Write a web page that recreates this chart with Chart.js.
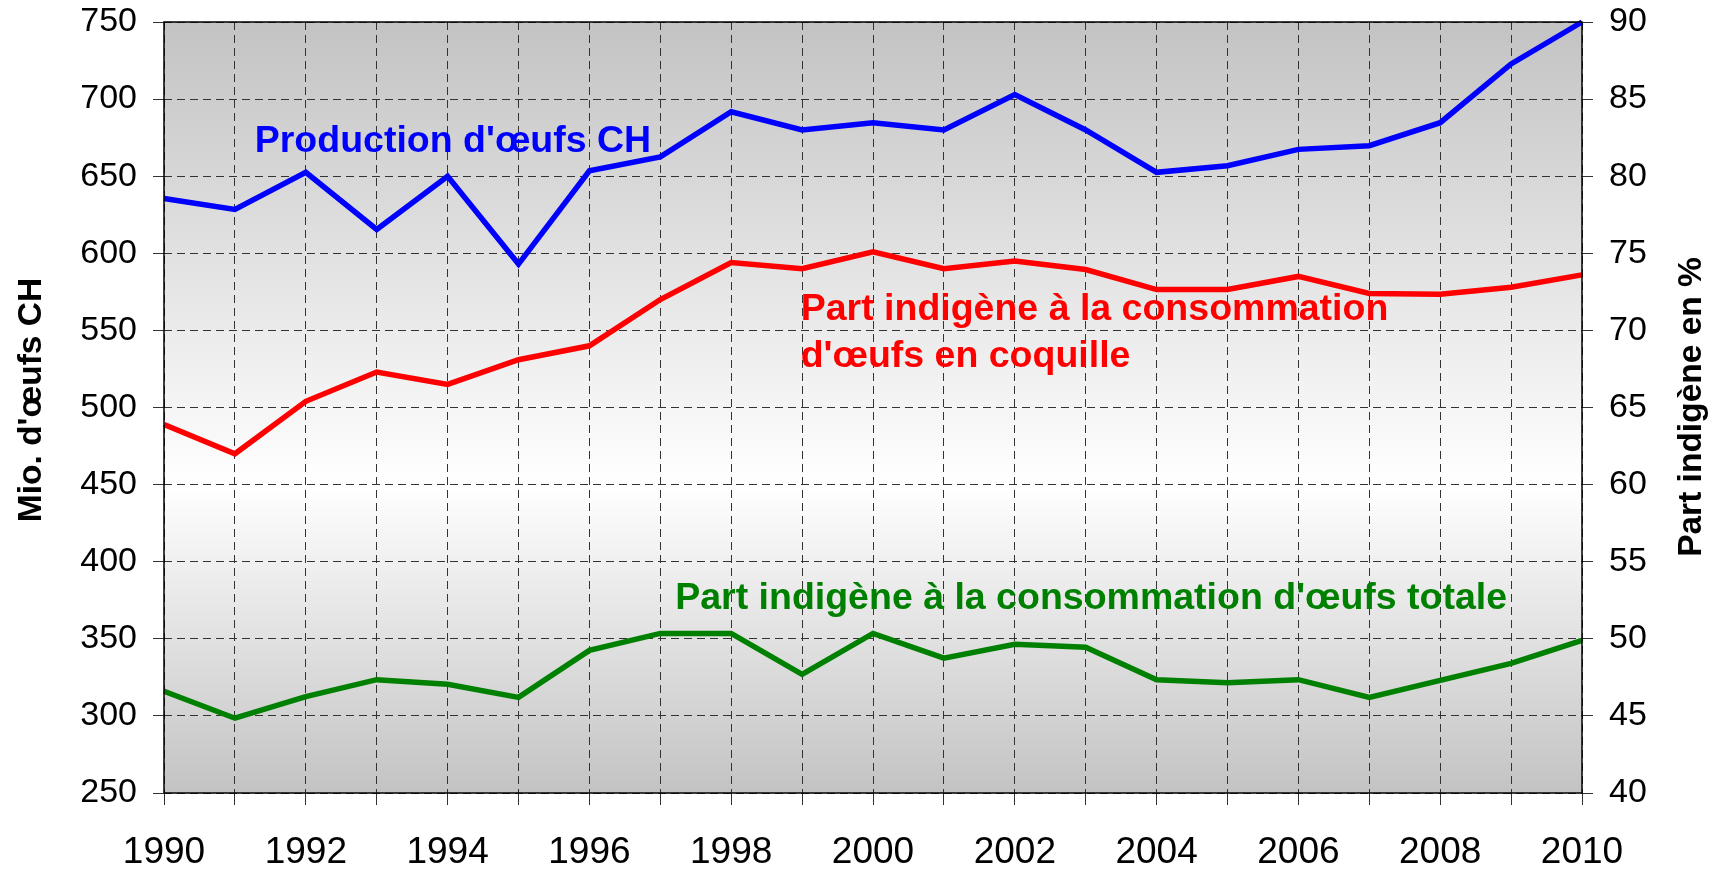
<!DOCTYPE html>
<html lang="fr">
<head>
<meta charset="UTF-8" />
<title>Production d'œufs CH</title>
<script src="https://cdn.jsdelivr.net/npm/chart.js@4"></script>
<style>
  * { margin: 0; padding: 0; box-sizing: border-box; }
  body { background: #fff; }
  .chart-container { width: 1721px; height: 871px; }
</style>
</head>
<body>
<div class="chart-container"><canvas id="eggChart"></canvas></div>
<script>
// data
const years = ["1990","1991","1992","1993","1994","1995","1996","1997","1998","1999","2000",
               "2001","2002","2003","2004","2005","2006","2007","2008","2009","2010"];
// Mio. d'oeufs (left axis)
const production = [635.5, 628.5, 652.5, 615.5, 650, 593, 653.5, 662.5, 691.8, 680, 684.7,
                    680, 703, 680, 652.5, 656.8, 667.4, 669.8, 684.7, 722.8, 750];
// Part indigène en % (right axis)
const partCoquille = [63.9, 62.0, 65.4, 67.3, 66.5, 68.1, 69.0, 72.0, 74.4, 74.0, 75.1,
                      74.0, 74.5, 73.95, 72.65, 72.65, 73.5, 72.4, 72.35, 72.8, 73.6];
const partTotale = [46.6, 44.85, 46.25, 47.35, 47.05, 46.2, 49.25, 50.35, 50.35, 47.7, 50.35,
                    48.75, 49.65, 49.45, 47.35, 47.15, 47.35, 46.2, 47.3, 48.4, 49.9];

const leftTitle = "Mio. d'œufs CH";
const rightTitle = "Part indigène en %";

// text labels inside the plot, anchored in data units (x = year index)
const notes = [
    { text: "Production d'œufs CH", color: "#0000ff", x: 1.28, y: 665.7, axis: "y" },
    { text: "Part indigène à la consommation", color: "#ff0000", x: 8.98, y: 70.67, axis: "y1" },
    { text: "d'œufs en coquille", color: "#ff0000", x: 8.98, y: 67.6, axis: "y1" },
    { text: "Part indigène à la consommation d'œufs totale", color: "#008000", x: 7.21, y: 51.93, axis: "y1" },
];

const FONT = "'Liberation Sans', Arial, sans-serif";

const plotDecor = {
    id: "plotDecor",
    beforeDraw(chart) {
        const { ctx, chartArea: a } = chart;
        const g = ctx.createLinearGradient(0, a.top, 0, a.bottom);
        g.addColorStop(0, "#c3c3c3");
        g.addColorStop(0.6, "#ffffff");
        g.addColorStop(1, "#c3c3c3");
        ctx.save();
        ctx.fillStyle = g;
        ctx.fillRect(a.left, a.top, a.right - a.left, a.bottom - a.top);
        ctx.restore();
    },
    afterDatasetsDraw(chart) {
        const { ctx } = chart;
        ctx.save();
        ctx.font = "bold 37.5px " + FONT;
        ctx.textAlign = "left";
        ctx.textBaseline = "alphabetic";
        notes.forEach((n) => {
            ctx.fillStyle = n.color;
            ctx.fillText(n.text, chart.scales.x.getPixelForValue(n.x),
                chart.scales[n.axis].getPixelForValue(n.y));
        });
        ctx.restore();
    },
    afterDraw(chart) {
        const { ctx, chartArea: a } = chart;
        ctx.save();
        ctx.strokeStyle = "#000";
        ctx.lineWidth = 1.5;
        ctx.strokeRect(a.left, a.top, a.right - a.left, a.bottom - a.top);

        ctx.fillStyle = "#000";
        ctx.textAlign = "center";
        ctx.textBaseline = "alphabetic";
        ctx.font = "bold 33.5px " + FONT;
        ctx.save();
        ctx.translate(41, 400);
        ctx.rotate(-Math.PI / 2);
        ctx.fillText(leftTitle, 0, 0);
        ctx.restore();

        ctx.translate(1701, 407);
        ctx.rotate(-Math.PI / 2);
        ctx.fillText(rightTitle, 0, 0);
        ctx.restore();
    },
};

const gridDash = [8, 5];

// fixed axis boxes so the plot area lands where the original one is
function fixVertical(width) {
    return function (scale) {
        scale.width = width;
        scale.paddingTop = 0;
        scale.paddingBottom = 0;
    };
}

new Chart(document.getElementById("eggChart"), {
    type: "line",
    data: {
        labels: years,
        datasets: [
            { label: "Production d'œufs CH", data: production, yAxisID: "y",
              borderColor: "#0000ff", borderWidth: 5.5, pointRadius: 0, clip: false },
            { label: "Part indigène à la consommation d'œufs en coquille", data: partCoquille, yAxisID: "y1",
              borderColor: "#ff0000", borderWidth: 5.5, pointRadius: 0, clip: false },
            { label: "Part indigène à la consommation d'œufs totale", data: partTotale, yAxisID: "y1",
              borderColor: "#008000", borderWidth: 5.5, pointRadius: 0, clip: false },
        ],
    },
    options: {
        responsive: true,
        maintainAspectRatio: false,
        animation: false,
        layout: { padding: { top: 22, left: 0, right: 0, bottom: 0 } },
        plugins: {
            legend: { display: false },
            tooltip: { enabled: false },
        },
        scales: {
            x: {
                type: "category",
                offset: false,
                afterFit(scale) {
                    scale.height = 78;
                    scale.paddingLeft = 0;
                    scale.paddingRight = 0;
                },
                grid: { color: "#333", lineWidth: 1, tickColor: "#333", tickLength: 12 },
                border: { display: false, dash: gridDash },
                ticks: {
                    autoSkip: false,
                    maxRotation: 0,
                    padding: 26,
                    color: "#000",
                    font: { family: FONT, size: 37 },
                    callback: (v, i) => (Number(years[i]) % 2 === 0 ? years[i] : ""),
                },
            },
            y: {
                position: "left",
                min: 250,
                max: 750,
                afterFit: fixVertical(164),
                grid: { color: "#333", lineWidth: 1, tickColor: "#333", tickLength: 11 },
                border: { display: false, dash: gridDash },
                ticks: { stepSize: 50, padding: 16, color: "#000", font: { family: FONT, size: 34 } },
            },
            y1: {
                position: "right",
                min: 40,
                max: 90,
                afterFit: fixVertical(139),
                grid: { drawOnChartArea: false, tickColor: "#333", tickLength: 11 },
                border: { display: false },
                ticks: { stepSize: 5, padding: 16, color: "#000", font: { family: FONT, size: 34 } },
            },
        },
    },
    plugins: [plotDecor],
});
</script>
</body>
</html>
